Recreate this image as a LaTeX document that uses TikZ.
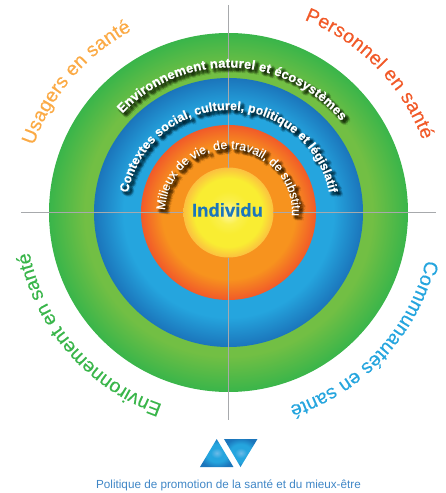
\documentclass[tikz,border=0pt]{standalone}
\usepackage{fontspec}
\setmainfont{Liberation Sans}
\usetikzlibrary{decorations.text}
\definecolor{gdark}{HTML}{39B54A}
\definecolor{glight}{HTML}{72BF44}
\definecolor{bdark}{HTML}{1B75BB}
\definecolor{blight}{HTML}{25A5DE}
\definecolor{odark}{HTML}{F15A29}
\definecolor{olight}{HTML}{F7931E}
\definecolor{ycentre}{HTML}{FFF9B0}
\definecolor{ymid}{HTML}{F9ED32}
\definecolor{yedge}{HTML}{FBC040}
\definecolor{axisgrey}{HTML}{A7A9AC}
\definecolor{usagers}{HTML}{FBAA45}
\definecolor{captionblue}{HTML}{3F86C6}
\definecolor{tricentre}{HTML}{6DBBE8}
\pgfdeclareradialshading{greenring}{\pgfpointorigin}{color(0bp)=(glight);color(20bp)=(glight);color(25bp)=(gdark);color(50bp)=(gdark)}
\pgfdeclareradialshading{bluering}{\pgfpointorigin}{color(0bp)=(blight);color(19.5bp)=(blight);color(25bp)=(bdark);color(50bp)=(bdark)}
\pgfdeclareradialshading{orangering}{\pgfpointorigin}{color(0bp)=(olight);color(19bp)=(olight);color(25bp)=(odark);color(50bp)=(odark)}
\pgfdeclareradialshading{yellowcore}{\pgfpointorigin}{color(0bp)=(ycentre);color(6.4bp)=(ymid!80!ycentre);color(12bp)=(ymid);color(19bp)=(ymid);color(25bp)=(yedge);color(50bp)=(yedge)}
\pgfdeclareradialshading{triangleblue}{\pgfpointorigin}{color(0bp)=(tricentre);color(9bp)=(blight);color(16bp)=(blight);color(27bp)=(bdark);color(50bp)=(bdark)}
\tikzset{
  x=1pt,y=1pt,
  ring/.style={circle,draw=none,inner sep=0pt,outer sep=0pt,minimum size=2*#1 pt},
  axisline/.style={draw=axisgrey,line width=0.8pt},
}
% radius, start angle, end angle, format, text
\newcommand{\arctext}[5]{%
  \path[decorate,decoration={text along path,text align={fit to path},
    text={|#4|#5}}] (#2:#1pt) arc[start angle=#2,end angle=#3,radius=#1pt];}
\newcommand{\shadowtext}[5]{%
  \foreach \dx/\dy in {3/-3,3/-3,2/-2,4/-4,2/-4,4/-2,1.5/-3,3/-1.5,4.5/-3,3/-4.5,1/-1,5/-5,1/-3.5,3.5/-1,5/-3,3/-5,2/-3,3/-2,4/-3,3/-4}{%
    \begin{scope}[shift={(\dx,\dy)},opacity=.05]
      \arctext{#1}{#2}{#3}{\color{black}#4\addfontfeature{FakeBold=3}}{#5}
    \end{scope}}%
  \arctext{#1}{#2}{#3}{\color{white}#4}{#5}}
\newcommand{\ffouter}{\fontsize{19.5}{20}\selectfont\addfontfeature{FakeBold=0.4}}
\newcommand{\ffboldA}{\fontsize{13}{14}\selectfont\bfseries\addfontfeature{FakeBold=0.8}}
\newcommand{\ffboldB}{\fontsize{12.5}{13}\selectfont\bfseries\addfontfeature{FakeBold=0.8}}
\newcommand{\ffplain}{\fontsize{12.5}{13}\selectfont\addfontfeature{FakeBold=0.4}}
\begin{document}
\begin{tikzpicture}
\useasboundingbox (-228.5,-280.5) rectangle (217.5,212.5);
\node[ring=179.5,shading=greenring] (green) at (0,0) {};
\node[ring=134.5,shading=bluering] (blue) at (0,0) {};
\node[ring=87.5,shading=orangering] (orange) at (0,0) {};
\node[ring=45,shading=yellowcore] (core) at (0,0) {};
\coordinate (axisL) at (-207.5,0);
\coordinate (axisR) at (207.5,0);
\coordinate (axisT) at (0,207.5);
\coordinate (axisB) at (0,-207.5);
\draw[axisline] (axisL) -- (core.west);
\draw[axisline] (core.east) -- (axisR);
\draw[axisline] (axisT) -- (core.north);
\draw[axisline] (core.south) -- (axisB);
\shadowtext{145}{137}{39}{\ffboldA}{Environnement naturel et écosystèmes}
\shadowtext{102.5}{169}{11}{\ffboldB}{Contextes social, culturel, politique et législatif}
\shadowtext{63.5}{178}{-1}{\ffplain}{Milieux de vie, de travail, de substitut}
\arctext{206}{161}{118}{\color{usagers}\ffouter}{Usagers en santé}
\arctext{207}{68.5}{20.5}{\color{odark}\ffouter}{Personnel en santé}
\arctext{203}{-13.5}{-72.5}{\color{blight}\ffouter}{Communautés en santé}
\arctext{203}{-109}{-168.5}{\color{gdark}\ffouter}{Environnement en santé}
\node[inner sep=0pt,text=bdark,font=\fontsize{18.5}{19}\selectfont\bfseries\addfontfeature{FakeBold=0.5}] (individu) at (-1,2.5) {Individu};
\shade[shading=triangleblue] (-11.8,-226.5) -- (-28.5,-254.5) -- (5,-254.5) -- cycle;
\shade[shading=triangleblue] (-4.5,-226.5) -- (29,-226.5) -- (12,-254.5) -- cycle;
\node[inner sep=0pt,text=captionblue,font=\fontsize{11.7}{12}\selectfont] (caption) at (0,-272.5) {Politique de promotion de la santé et du mieux-être};
\end{tikzpicture}
\end{document}
